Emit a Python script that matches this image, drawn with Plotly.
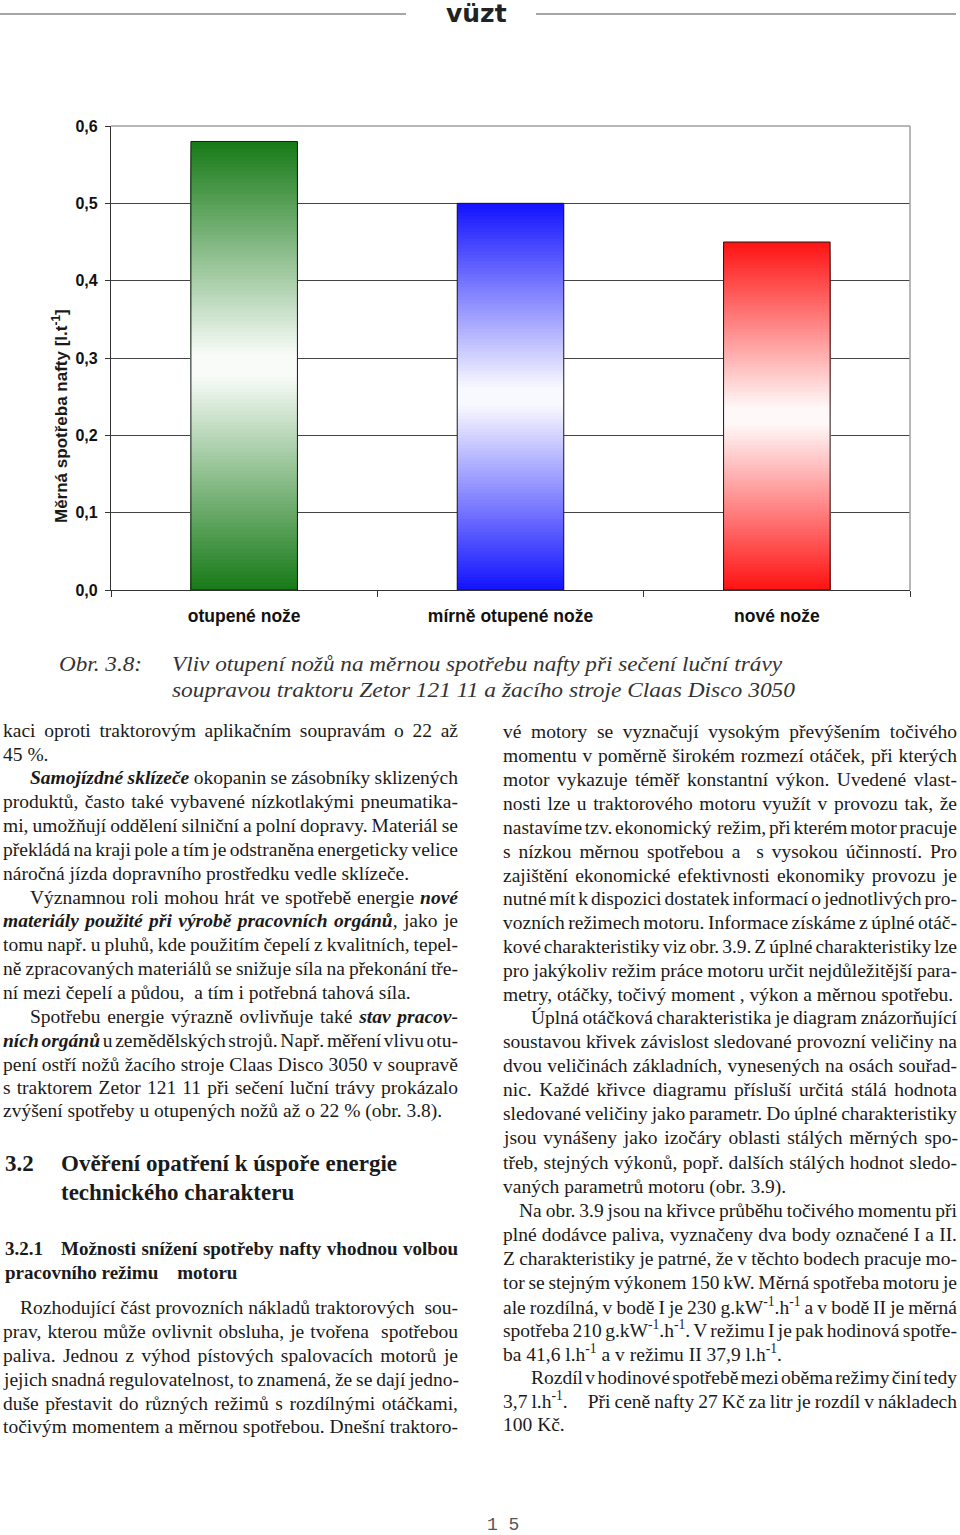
import json
import plotly.graph_objects as go

# ---------------- data ----------------
categories = ["otupené nože", "mírně otupené nože", "nové nože"]
values = [0.58, 0.50, 0.45]
base_colors = [(22, 122, 22), (18, 18, 255), (255, 18, 18)]
y_ticks = [0.0, 0.1, 0.2, 0.3, 0.4, 0.5, 0.6]
y_title = "Měrná spotřeba nafty [l.t<sup>-1</sup>]"
caption_label = "Obr. 3.8:"
caption_lines = ["Vliv otupení nožů na měrnou spotřebu nafty při sečení luční trávy",
                 "soupravou traktoru Zetor 121 11 a žacího stroje Claas Disco 3050"]

# (x, y, text, justified)
left_col = [
    (3, 730, "kaci oproti traktorovým aplikačním soupravám o 22 až", True),
    (3, 754, "45 %.", False),
    (30, 777, "<b><i>Samojízdné sklízeče</i></b> okopanin se zásobníky sklizených", True),
    (3, 801, "produktů, často také vybavené nízkotlakými pneumatika-", True),
    (3, 825, "mi, umožňují oddělení silniční a polní dopravy. Materiál se", True),
    (3, 849, "překládá na kraji pole a tím je odstraněna energeticky velice", True),
    (3, 873, "náročná jízda dopravního prostředku vedle sklízeče.", False),
    (30, 897, "Významnou roli mohou hrát ve spotřebě energie <b><i>nové</i></b>", True),
    (3, 920, "<b><i>materiály použité při výrobě pracovních orgánů</i></b>, jako je", True),
    (3, 944, "tomu např. u pluhů, kde použitím čepelí z kvalitních, tepel-", True),
    (3, 968, "ně zpracovaných materiálů se snižuje síla na překonání tře-", True),
    (3, 992, "ní mezi čepelí a půdou,  a tím i potřebná tahová síla.", False),
    (30, 1016, "Spotřebu energie výrazně ovlivňuje také <b><i>stav pracov-</i></b>", True),
    (3, 1040, "<b><i>ních orgánů</i></b> u zemědělských strojů. Např. měření vlivu otu-", True),
    (3, 1064, "pení ostří nožů žacího stroje Claas Disco 3050 v soupravě", True),
    (3, 1087, "s traktorem Zetor 121 11 při sečení luční trávy prokázalo", True),
    (3, 1111, "zvýšení spotřeby u otupených nožů až o 22 % (obr. 3.8).", False),
    (20, 1307, "Rozhodující část provozních nákladů traktorových  sou-", True),
    (3, 1331, "prav, kterou může ovlivnit obsluha, je tvořena  spotřebou", True),
    (3, 1355, "paliva. Jednou z výhod pístových spalovacích motorů je", True),
    (3, 1379, "jejich snadná regulovatelnost, to znamená, že se dají jedno-", True),
    (3, 1403, "duše přestavit do různých režimů s rozdílnými otáčkami,", True),
    (3, 1426, "točivým momentem a měrnou spotřebou. Dnešní traktoro-", True),
]

right_col = [
    (503, 731, "vé motory se vyznačují vysokým převýšením točivého", True),
    (503, 755, "momentu v poměrně širokém rozmezí otáček, při kterých", True),
    (503, 779, "motor vykazuje téměř konstantní výkon. Uvedené vlast-", True),
    (503, 803, "nosti lze u traktorového motoru využít v provozu tak, že", True),
    (503, 827, "nastavíme tzv. ekonomický  režim, při kterém motor pracuje", True),
    (503, 851, "s nízkou měrnou spotřebou a  s vysokou účinností. Pro", True),
    (503, 875, "zajištění ekonomické efektivnosti ekonomiky provozu je", True),
    (503, 898, "nutné mít k dispozici dostatek informací o jednotlivých pro-", True),
    (503, 922, "vozních režimech motoru. Informace získáme z úplné otáč-", True),
    (503, 946, "kové charakteristiky viz obr. 3.9. Z úplné charakteristiky lze", True),
    (503, 970, "pro jakýkoliv režim práce motoru určit nejdůležitější para-", True),
    (503, 994, "metry, otáčky, točivý moment , výkon a měrnou spotřebu.", False),
    (531, 1017, "Úplná otáčková charakteristika je diagram znázorňující", True),
    (503, 1041, "soustavou křivek závislost sledované provozní veličiny na", True),
    (503, 1065, "dvou veličinách základních, vynesených na osách souřad-", True),
    (503, 1089, "nic. Každé křivce diagramu přísluší určitá stálá hodnota", True),
    (503, 1113, "sledované veličiny jako parametr. Do úplné charakteristiky", True),
    (503, 1137, "jsou vynášeny jako izočáry oblasti stálých měrných spo-", True),
    (503, 1162, "třeb, stejných výkonů, popř. dalších stálých hodnot sledo-", True),
    (503, 1187, "vaných parametrů motoru (obr. 3.9).", False),
    (519, 1210, "Na obr. 3.9 jsou na křivce průběhu točivého momentu při", True),
    (503, 1234, "plné dodávce paliva, vyznačeny dva body označené I a II.", True),
    (503, 1258, "Z charakteristiky je patrné, že v těchto bodech pracuje mo-", True),
    (503, 1282, "tor se stejným výkonem 150 kW. Měrná spotřeba motoru je", True),
    (503, 1306, "ale rozdílná, v bodě I je 230 g.kW<sup>-1</sup>.h<sup>-1</sup> a v bodě II je měrná", True),
    (503, 1329, "spotřeba 210 g.kW<sup>-1</sup>.h<sup>-1</sup>. V režimu I je pak hodinová spotře-", True),
    (503, 1353, "ba 41,6 l.h<sup>-1</sup> a v režimu II 37,9 l.h<sup>-1</sup>.", False),
    (531, 1377, "Rozdíl v hodinové spotřebě mezi oběma režimy činí tedy", True),
    (503, 1400, "3,7 l.h<sup>-1</sup>.     Při ceně nafty 27 Kč za litr je rozdíl v nákladech", True),
    (503, 1424, "100 Kč.", False),
]

# (x, y, text, size, justified)
headings = [
    (5, 1164, "<b>3.2</b>", 23, False),
    (61, 1164, "<b>Ověření opatření k úspoře energie</b>", 23, False),
    (61, 1193, "<b>technického charakteru</b>", 23, False),
    (5, 1248, "<b>3.2.1</b>", 19, False),
    (61, 1248, "<b>Možnosti snížení spotřeby nafty vhodnou volbou</b>", 19, True),
    (5, 1272, "<b>pracovního režimu    motoru</b>", 19, False),
]

# ---------------- geometry ----------------
W, H = 960, 1535
L, R, T, B = 111, 910, 126, 590
LEFT_EDGE, RIGHT_EDGE = 458, 957


def px(x):
    return (x - L) / (R - L)


def py(y):
    return (B - y) / (B - T)


fig = go.Figure()

# gradient bars: nested bars from 0 to a fraction of the value, tallest first
N = 120
for i, (cat, val, col) in enumerate(zip(categories, values, base_colors)):
    ys, cols = [], []
    for k in range(N - 1, -1, -1):
        t = (k + 0.5) / N
        w = min(1.0, (1 - abs(2 * t - 1)) * 1.05) * 0.97
        c = tuple(int(round(col[j] + (255 - col[j]) * w)) for j in range(3))
        ys.append(val * (k + 1) / N)
        cols.append("rgb(%d,%d,%d)" % c)
    fig.add_trace(go.Bar(x=[cat] * N, y=ys, marker=dict(color=cols, line=dict(width=0)),
                         width=0.4, showlegend=False, hoverinfo="skip"))

# outlines
fig.add_trace(go.Bar(x=categories, y=values, width=0.4, showlegend=False,
                     marker=dict(color="rgba(0,0,0,0)", line=dict(color="#1a1a1a", width=1))))

ann = []
fit = {}  # annotation index -> [target width, mode]


def add_text(x, y, text, size, family="Liberation Serif", color="#1a1a1a",
             width=None, mode="word"):
    ann.append(dict(x=px(x), y=py(y), xref="paper", yref="paper", text=text,
                    showarrow=False, xanchor="left", yanchor="middle", align="left",
                    borderpad=0, borderwidth=0,
                    font=dict(family=family, size=size, color=color)))
    if width is not None:
        fit[len(ann) - 1] = [width, mode]


# y title
ann.append(dict(x=px(60), y=py(416), xref="paper", yref="paper", text="<b>" + y_title + "</b>",
                textangle=-90, showarrow=False, xanchor="center", yanchor="middle",
                font=dict(family="Liberation Sans", size=17, color="#1a1a1a")))
# caption
add_text(59, 664, "<i>" + caption_label + "</i>", 21, color="#333", width=83, mode="glyph")
add_text(172, 664, "<i>" + caption_lines[0] + "</i>", 21, color="#333", width=610, mode="glyph")
add_text(172, 690, "<i>" + caption_lines[1] + "</i>", 21, color="#333", width=623, mode="glyph")
# body text
for (x, y, txt, j) in left_col:
    add_text(x, y, txt, 19.5, width=(LEFT_EDGE - x) if j else None)
for (x, y, txt, j) in right_col:
    add_text(x, y, txt, 19.5, width=(RIGHT_EDGE - x) if j else None)
for (x, y, txt, s, j) in headings:
    add_text(x, y, txt, s, width=(LEFT_EDGE - x) if j else None)
# logo & page number
ann.append(dict(x=px(476), y=py(14), xref="paper", yref="paper", text="<b>vüzt</b>",
                showarrow=False, xanchor="center", yanchor="middle",
                font=dict(family="DejaVu Sans", size=25, color="#222")))
ann.append(dict(x=px(503), y=py(1525), xref="paper", yref="paper", text="1 5",
                showarrow=False, xanchor="center", yanchor="middle",
                font=dict(family="Liberation Mono", size=18, color="#555")))

shapes = [
    dict(type="line", xref="paper", yref="paper", x0=px(0), x1=px(406), y0=py(14), y1=py(14),
         line=dict(color="#888", width=1.5)),
    dict(type="line", xref="paper", yref="paper", x0=px(536), x1=px(956), y0=py(14), y1=py(14),
         line=dict(color="#888", width=1.5)),
    dict(type="line", xref="paper", yref="paper", x0=0, x1=1, y0=1, y1=1,
         line=dict(color="#a0a0a0", width=1.5)),
    dict(type="line", xref="paper", yref="paper", x0=1, x1=1, y0=0, y1=1,
         line=dict(color="#a0a0a0", width=1.5)),
]

fig.update_layout(
    width=W, height=H, margin=dict(l=L, r=W - R, t=T, b=H - B),
    paper_bgcolor="white", plot_bgcolor="white", barmode="overlay", bargap=0.6,
    separators=", ", annotations=ann, shapes=shapes,
)
fig.update_xaxes(type="category", showline=True, linecolor="#333", linewidth=1.3,
                 ticks="outside", tickson="boundaries", ticklen=6, tickcolor="#333",
                 showgrid=False, ticklabelstandoff=10,
                 tickfont=dict(family="Liberation Sans", size=17.5, color="#111", weight="bold"))
fig.update_yaxes(range=[0, 0.6], tickvals=y_ticks, tickformat=".1f", showline=True,
                 linecolor="#333", linewidth=1.3, ticks="outside", ticklen=5, tickcolor="#333",
                 showgrid=True, gridcolor="#444", gridwidth=1, zeroline=False,
                 ticklabelstandoff=4,
                 tickfont=dict(family="Liberation Sans", size=16, color="#111", weight="bold"))

# justify body lines (word spacing) and stretch caption lines, like the printed page
js = """
var FIT = %s;
var gd = document.querySelector('.js-plotly-plot');
function applyFit(){
  gd.querySelectorAll('g.annotation').forEach(function(g){
    var f = FIT[g.getAttribute('data-index')];
    if (!f) return;
    var t = g.querySelector('text.annotation-text');
    if (!t) return;
    if (f[1] === 'glyph') {
      t.setAttribute('textLength', f[0]);
      t.setAttribute('lengthAdjust', 'spacingAndGlyphs');
    } else {
      t.style.wordSpacing = '0px';
      var len = t.getComputedTextLength();
      var n = (t.textContent.match(/ /g) || []).length;
      if (n > 0) t.style.wordSpacing = ((f[0] - len) / n) + 'px';
    }
  });
}
applyFit();
""" % json.dumps({str(k): v for k, v in fit.items()})

fig.write_html("out.html", post_script=js)
